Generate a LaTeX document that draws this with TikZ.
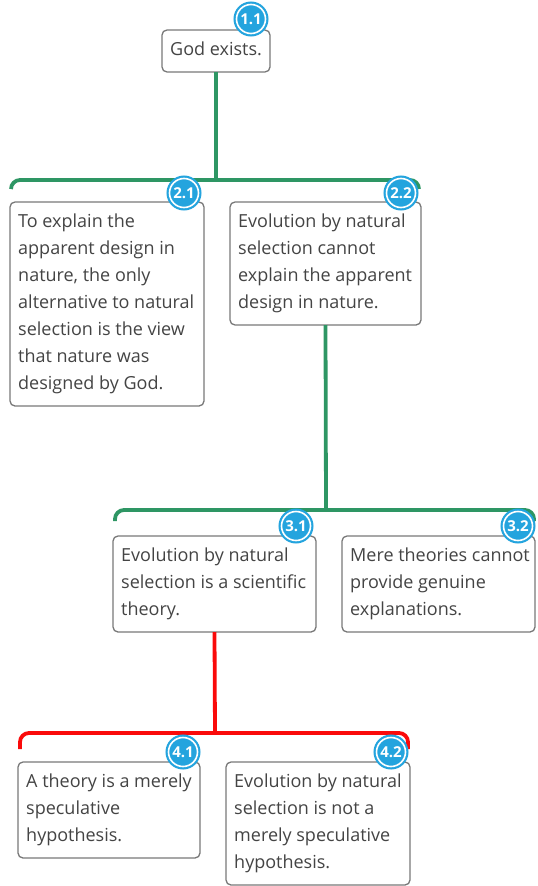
\documentclass[tikz,border=0pt]{standalone}
\usepackage{fontspec}
\setmainfont{Open Sans}
\begin{document}
\definecolor{boxline}{RGB}{120,120,120}
\definecolor{boxtext}{RGB}{68,68,68}
\definecolor{linkgreen}{RGB}{46,150,100}
\definecolor{linkred}{RGB}{250,10,10}
\definecolor{badgeblue}{RGB}{36,164,222}
\begin{tikzpicture}[x=1pt,y=-1pt,
  frame/.style={draw=boxline, line width=1.3pt, rounded corners=5pt, fill=white},
  claimtext/.style={anchor=north west, inner sep=0pt, text=boxtext, align=left,
    font=\fontsize{18}{27}\selectfont},
  badge/.style={circle, minimum size=29pt, inner sep=0pt, fill=badgeblue,
    draw=white, line width=1.6pt, preaction={draw=badgeblue, line width=6pt},
    text=white, font=\fontsize{15}{15}\selectfont\bfseries},
  support/.style={draw=linkgreen, line width=3.8pt, rounded corners=9pt},
  oppose/.style={draw=linkred, line width=3.8pt, rounded corners=9pt}]
\useasboundingbox (0,0) rectangle (538,886);

% a claim: rounded frame with its text set inside
\newcommand{\claimbox}[6]{%
  \draw[frame] (#2,#3) rectangle (#4,#5);
  \node[claimtext] (#1) at (#2+8,#3+12) {#6};
  \coordinate (#1-n) at ({(#2+#4)/2},#3);
  \coordinate (#1-s) at ({(#2+#4)/2},#5);
}

\claimbox{c11}{162}{30}{270}{72}{God exists.}
\claimbox{c21}{10}{202}{204}{406}{To explain the\\apparent design in\\nature, the only\\alternative to natural\\selection is the view\\that nature was\\designed by God.}
\claimbox{c22}{230}{202}{421}{325}{Evolution by natural\\selection cannot\\explain the apparent\\design in nature.}
\claimbox{c31}{113}{536}{316}{632}{Evolution by natural\\selection is a scientific\\theory.}
\claimbox{c32}{342}{536}{535}{632}{Mere theories cannot\\provide genuine\\explanations.}
\claimbox{c41}{18}{762}{200}{858}{A theory is a merely\\speculative\\hypothesis.}
\claimbox{c42}{226}{762}{410}{885}{Evolution by natural\\selection is not a\\merely speculative\\hypothesis.}

% connectors: stem from a claim down to the bracket over its premises
\coordinate (j1) at (216,180);
\coordinate (j2) at (326,510);
\coordinate (j3) at (215,733);
\draw[support] (c11-s) -- (j1);
\draw[support] (11,189) -- (11,180) -- (419,180) -- (419,189);
\draw[support] (c22-s) -- (j2);
\draw[support] (115,521) -- (115,510) -- (534,510) -- (534,521);
\draw[oppose] (c31-s) -- (j3);
\draw[oppose] (20,749) -- (20,733) -- (408,733) -- (408,749);

% numbered badges
\node[badge] (b11) at (251,19) {1.1};
\node[badge] (b21) at (184,193) {2.1};
\node[badge] (b22) at (401,193) {2.2};
\node[badge] (b31) at (296,526) {3.1};
\node[badge] (b32) at (518,526) {3.2};
\node[badge] (b41) at (183,752) {4.1};
\node[badge] (b42) at (391,752) {4.2};
\end{tikzpicture}
\end{document}
